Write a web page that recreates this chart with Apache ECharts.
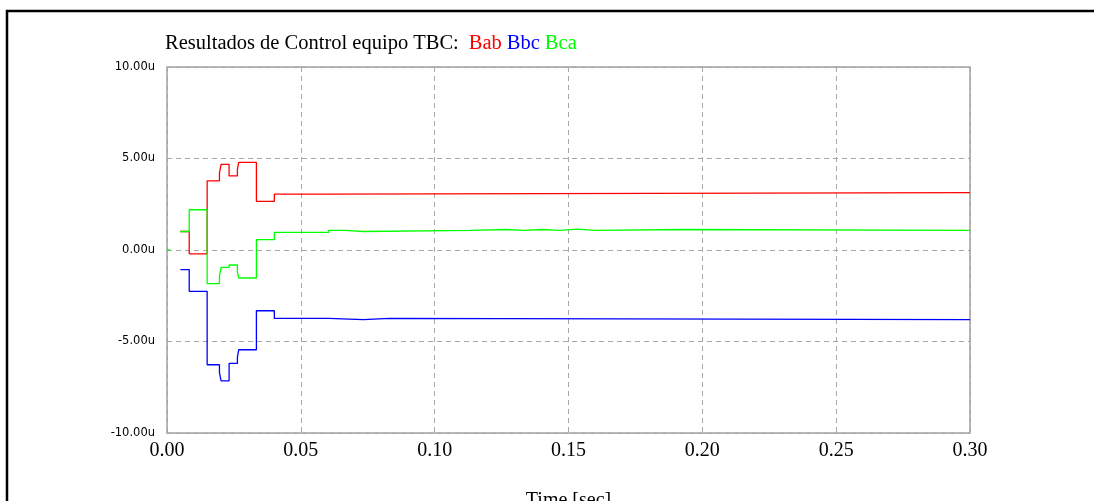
<!DOCTYPE html>
<html>
<head>
<meta charset="utf-8">
<script src="https://cdn.jsdelivr.net/npm/echarts@6/dist/echarts.min.js"></script>
<style>
html,body{margin:0;padding:0;background:#fff;}
#chart{width:1094px;height:501px;}
</style>
</head>
<body>
<div id="chart"></div>
<script>
// Time ticks (sec) and magnetic values in micro-units (u)
var xTicks = [0.00, 0.05, 0.10, 0.15, 0.20, 0.25, 0.30];
var yTicks = [-10, -5, 0, 5, 10];

// Step series: [time, value] — value holds until next time
var bab = [[0.005,1.01],[0.0083,-0.21],[0.015,3.78],[0.0196,4.22],[0.0202,4.68],[0.0232,4.05],[0.0263,4.40],[0.0268,4.79],[0.0334,2.66],[0.0401,3.05],[0.0604,3.14],[0.30,3.14]];
var bbc = [[0.005,-1.07],[0.0083,-2.26],[0.015,-6.27],[0.0196,-6.70],[0.0202,-7.15],[0.0232,-6.20],[0.0263,-5.87],[0.0268,-5.45],[0.0334,-3.32],[0.0401,-3.74],[0.0604,-3.81],[0.0734,-3.74],[0.0831,-3.81],[0.30,-3.81]];
var bca = [[0.005,1.01],[0.0083,2.20],[0.015,-1.84],[0.0196,-1.41],[0.0202,-0.95],[0.0232,-0.82],[0.0263,-1.23],[0.0268,-1.53],[0.0334,0.57],[0.0401,0.96],[0.0604,1.07],[0.0666,1.01],[0.0734,1.07],[0.1133,1.12],[0.1267,1.07],[0.1331,1.12],[0.140,1.07],[0.1466,1.14],[0.1533,1.07],[0.160,1.12],[0.1931,1.07],[0.30,1.07]];
var bcaStart = [[0,0],[0.0012,0]];

var chart = echarts.init(document.getElementById('chart'), null, {renderer:'canvas'});
var serif = 'Liberation Serif';
var gridDash = {color:'#a8a8a8', width:1, type:[5,4]};
var tfs = 20.5;

chart.setOption({
  animation:false,
  backgroundColor:'#fff',
  graphic:[{
    type:'rect', silent:true, z:100,
    shape:{x:7, y:11, width:1300, height:700},
    style:{fill:null, stroke:'#000', lineWidth:2.5}
  }],
  title:{
    left:160, top:28,
    text:'{a|Resultados de Control equipo TBC:}  {r|Bab} {b|Bbc} {g|Bca}',
    textStyle:{
      fontWeight:'normal',
      rich:{
        a:{fontFamily:serif, fontSize:tfs, fontWeight:'normal', color:'#000'},
        r:{fontFamily:serif, fontSize:tfs, fontWeight:'normal', color:'#ff0000'},
        b:{fontFamily:serif, fontSize:tfs, fontWeight:'normal', color:'#0000ff'},
        g:{fontFamily:serif, fontSize:tfs, fontWeight:'normal', color:'#00ff00'}
      }
    }
  },
  grid:{left:167, right:124, top:67, bottom:68, containLabel:false, outerBoundsMode:'none',
        show:true, borderColor:'#a0a0a0', borderWidth:1.5, backgroundColor:'transparent'},
  xAxis:{
    type:'value', min:xTicks[0], max:xTicks[xTicks.length-1], interval:0.05,
    axisLine:{show:false}, axisTick:{show:false},
    axisLabel:{fontFamily:serif, fontSize:20, color:'#000', margin:8, formatter:function(v){return v.toFixed(2);}},
    splitLine:{show:true, lineStyle:gridDash},
    name:'Time [sec]', nameLocation:'middle', nameGap:58,
    nameTextStyle:{fontFamily:serif, fontSize:20, color:'#000'}
  },
  yAxis:{
    type:'value', min:yTicks[0], max:yTicks[yTicks.length-1], interval:5,
    axisLine:{show:false}, axisTick:{show:false},
    axisLabel:{fontFamily:'DejaVu Sans', fontSize:11.5, color:'#000', margin:12, formatter:function(v){return v.toFixed(2)+'u';}},
    splitLine:{show:true, lineStyle:gridDash}
  },
  series:[
    {name:'Bab', type:'line', step:'end', data:bab, showSymbol:false, lineStyle:{color:'#ff0000', width:1.3}, itemStyle:{color:'#ff0000'}},
    {name:'Bbc', type:'line', step:'end', data:bbc, showSymbol:false, lineStyle:{color:'#0000ff', width:1.3}, itemStyle:{color:'#0000ff'}},
    {name:'Bca0', type:'line', step:'end', data:bcaStart, showSymbol:false, lineStyle:{color:'#00ff00', width:1.3}, itemStyle:{color:'#00ff00'}},
    {name:'Bca', type:'line', step:'end', data:bca, showSymbol:false, lineStyle:{color:'#00ff00', width:1.3}, itemStyle:{color:'#00ff00'}}
  ]
});
</script>
</body>
</html>
